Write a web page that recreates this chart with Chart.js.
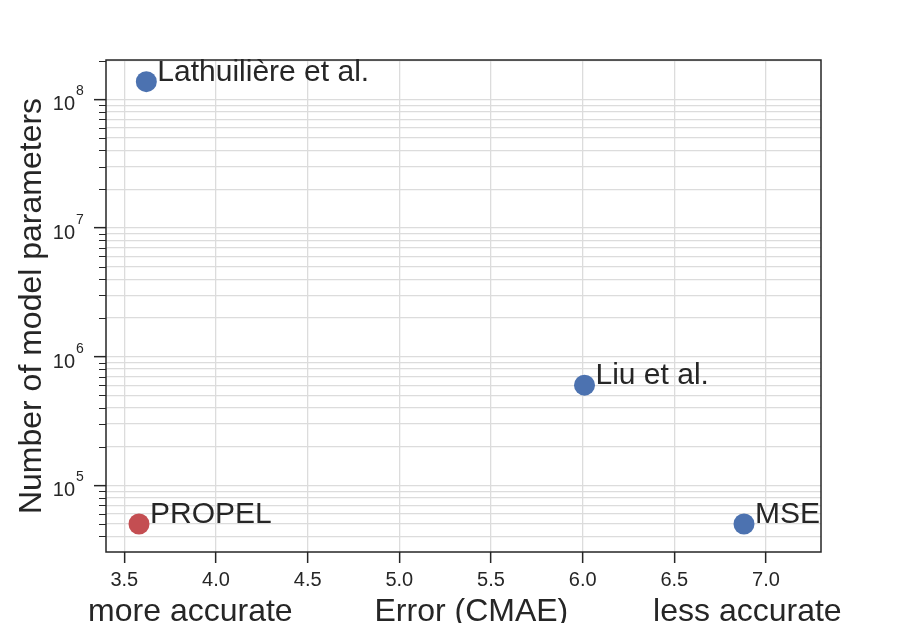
<!DOCTYPE html>
<html>
<head>
<meta charset="utf-8">
<script src="https://cdn.jsdelivr.net/npm/chart.js@4.4.0/dist/chart.umd.min.js"></script>
<style>
	body { margin: 0; background: #fff; }
	#wrap { width: 897px; height: 623px; }
</style>
</head>
<body>
<div id="wrap"><canvas id="chart" width="897" height="623"></canvas></div>
<script>
// data
const methods = [`PROPEL`, `Lathuilière et al.`, `Liu et al.`, `MSE`];
const errors = [3.58, 3.62, 6.01, 6.88];
const params = [5.0e4, 1.37e8, 6.0e5, 5.0e4];
const xTicks = [3.5, 4.0, 4.5, 5.0, 5.5, 6.0, 6.5, 7.0];
const yMajorTicks = [1e5, 1e6, 1e7, 1e8];
const xTitleParts = [`more accurate`, `Error (CMAE)`, `less accurate`];

const blue = `#4C72B0`;
const red = `#C44E52`;
const ink = `#262626`;
const gridGray = `#dcdcdc`;
const font = `"Liberation Sans", Arial, sans-serif`;

const isMajor = v => yMajorTicks.some(m => Math.abs(m - v) / m < 1e-6);

const decorations = {
	id: `decorations`,
	beforeDatasetsDraw(chart) {
		const {ctx, chartArea: a} = chart;
		ctx.save();
		ctx.strokeStyle = ink;
		ctx.lineWidth = 1.5;
		ctx.strokeRect(a.left, a.top, a.right - a.left, a.bottom - a.top);
		// short minor ticks on the log axis
		const y = chart.scales.y;
		ctx.lineWidth = 1.1;
		ctx.beginPath();
		y.ticks.forEach(t => {
			if (isMajor(t.value)) { return; }
			const py = Math.round(y.getPixelForValue(t.value)) + 0.5;
			ctx.moveTo(a.left - 7, py);
			ctx.lineTo(a.left, py);
		});
		ctx.stroke();
		// powers of ten labels
		ctx.fillStyle = ink;
		yMajorTicks.forEach(v => {
			const py = y.getPixelForValue(v);
			ctx.textBaseline = `alphabetic`;
			ctx.textAlign = `right`;
			ctx.font = `20px ${font}`;
			ctx.fillText(`10`, 75, py + 11);
			ctx.textAlign = `left`;
			ctx.font = `14px ${font}`;
			ctx.fillText(String(Math.round(Math.log10(v))), 76, py - 4);
		});
		ctx.restore();
	},
	afterDatasetsDraw(chart) {
		const {ctx, chartArea: a} = chart;
		ctx.save();
		ctx.fillStyle = ink;
		ctx.font = `30px ${font}`;
		ctx.textAlign = `left`;
		ctx.textBaseline = `alphabetic`;
		chart.getDatasetMeta(0).data.forEach((pt, i) => {
			ctx.fillText(methods[i], pt.x + 11, pt.y - 1);
		});
		// x axis title in three parts
		ctx.font = `32px ${font}`;
		ctx.textAlign = `center`;
		const w = a.right - a.left;
		const spots = [0.118, 0.511, 0.897];
		xTitleParts.forEach((t, i) => ctx.fillText(t, a.left + w * spots[i], 621));
		ctx.restore();
	}
};

new Chart(document.getElementById(`chart`), {
	type: `scatter`,
	data: {
		datasets: [{
			data: errors.map((e, i) => ({x: e, y: params[i]})),
			backgroundColor: errors.map((e, i) => i === 0 ? red : blue),
			borderWidth: 0,
			pointRadius: 10.5,
			pointHoverRadius: 10.5
		}]
	},
	options: {
		responsive: false,
		animation: false,
		layout: {padding: {top: 60, right: 76, left: 0, bottom: 0}},
		plugins: {legend: {display: false}, tooltip: {enabled: false}},
		scales: {
			x: {
				type: `linear`,
				min: 3.4,
				max: 7.3,
				afterBuildTicks: scale => { scale.ticks = xTicks.map(v => ({value: v})); },
				afterFit: scale => { scale.height = 71; },
				border: {display: false},
				grid: {color: gridGray, lineWidth: 1.3, tickColor: ink, tickWidth: 1.5, tickLength: 11},
				ticks: {
					color: ink,
					padding: 5,
					font: {family: font, size: 20},
					callback: v => v.toFixed(1)
				}
			},
			y: {
				type: `logarithmic`,
				min: 3.03e4,
				max: 2.02e8,
				afterBuildTicks: scale => {
					const ticks = [];
					for (let e = 4; e <= 8; e++) {
						for (let m = 1; m <= 9; m++) {
							const v = m * Math.pow(10, e);
							if (v >= scale.min && v <= scale.max) { ticks.push({value: v, major: m === 1}); }
						}
					}
					scale.ticks = ticks;
				},
				afterFit: scale => { scale.width = 106; },
				border: {display: false},
				grid: {
					color: gridGray,
					lineWidth: 1.3,
					tickColor: c => isMajor(c.tick.value) ? ink : `rgba(0,0,0,0)`,
					tickWidth: 1.5,
					tickLength: 12
				},
				ticks: {
					autoSkip: false,
					callback: () => ``
				},
				title: {
					display: true,
					text: `Number of model parameters`,
					color: ink,
					font: {family: font, size: 32},
					padding: {top: 13, bottom: 0}
				}
			}
		}
	},
	plugins: [decorations]
});
</script>
</body>
</html>
